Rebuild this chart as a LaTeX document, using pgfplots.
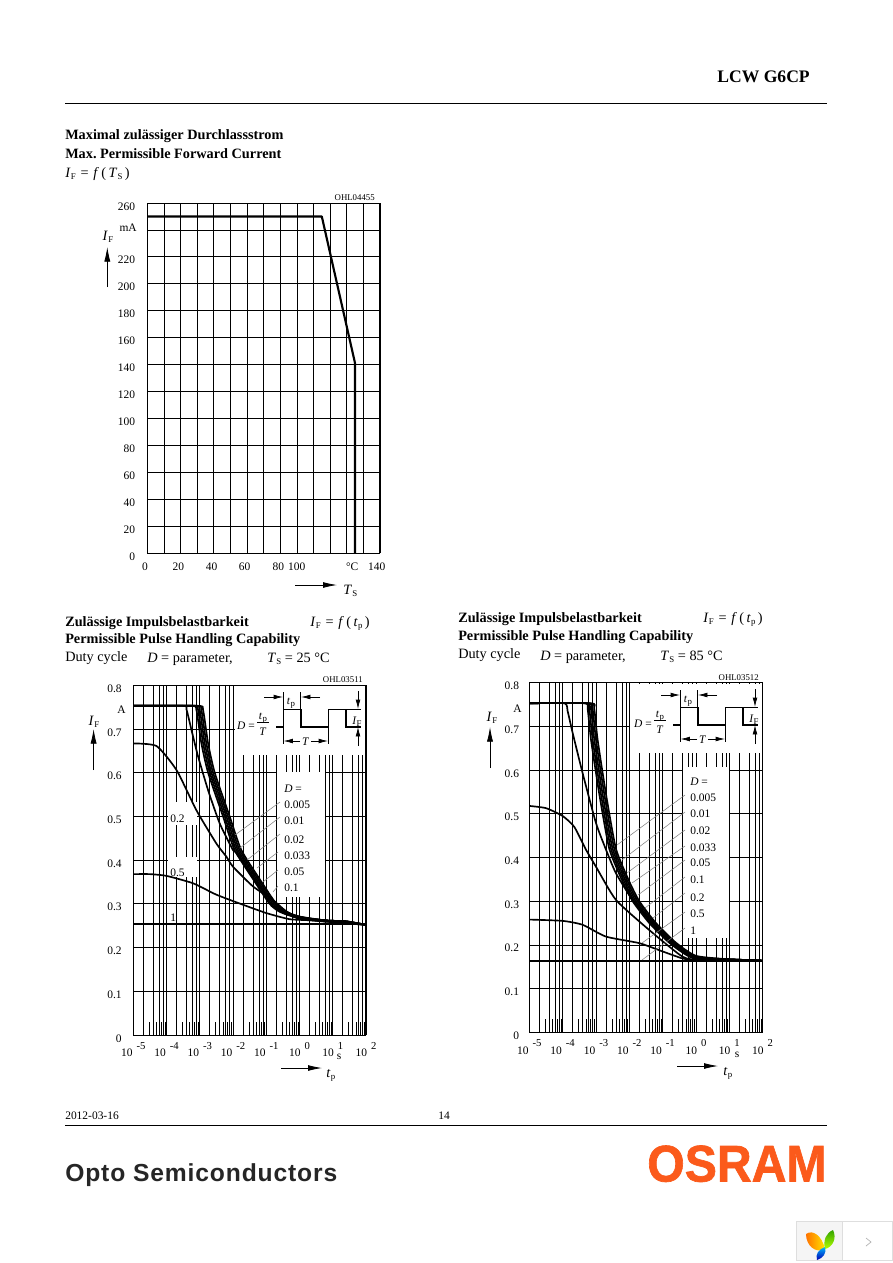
\documentclass[border=0pt]{standalone}
\usepackage{fontspec}
\usepackage{graphicx}
\usepackage{pgfplots}
\pgfplotsset{compat=1.18}
\usetikzlibrary{arrows.meta}
\setmainfont{Liberation Serif}
\newfontfamily\optof{Liberation Sans}[LetterSpace=3.5]
\newfontfamily\logof{Liberation Sans}[BoldFeatures={FakeBold=1.3}]
\definecolor{osram}{HTML}{FB5A1B}

\newcommand{\ft}{\fontsize{8.6pt}{10pt}\selectfont}
\newcommand{\fb}{\fontsize{10.7pt}{12pt}\selectfont}
\newcommand{\fs}{\fontsize{6.6pt}{8pt}\selectfont}
% subscript, math-like names in plain text
\newcommand{\sbb}[1]{\raisebox{-1.6pt}{\fontsize{6.6pt}{8pt}\selectfont #1}}
\newcommand{\IF}{\textit{I}\kern0.3pt\sbb{F}}
\newcommand{\TS}{\textit{T}\kern0.3pt\sbb{S}}
\newcommand{\tp}{\textit{t}\kern0.3pt\sbb{p}}
% text at page pixel x, baseline pixel y
\newcommand{\txt}[3]{\node[anchor=base west,inner sep=0pt,font=\ft] at (#1,#2) {#3};}
\newcommand{\tb}[3]{\node[anchor=base west,inner sep=0pt,font=\fb] at (#1,#2) {#3};}
\newcommand{\txtr}[3]{\node[anchor=base east,inner sep=0pt,font=\ft] at (#1,#2) {#3};}
% moved tick label, first argument is twice the shift in pt
\newcommand{\ls}[2]{\makebox[0pt]{\kern#1pt #2}}
\newcommand{\ex}[1]{10\kern3pt\raisebox{5.4pt}{\fontsize{8pt}{9pt}\selectfont #1}}

\tikzset{
  pg/.style={x=0.75pt,y=-0.75pt},
  uparr/.style={-{Latex[length=11pt,width=4.6pt]},line width=0.6pt},
  rtarr/.style={-{Latex[length=10.5pt,width=4.4pt]},line width=0.6pt},
  dimarr/.style={-{Latex[length=7pt,width=3.5pt]},line width=0.5pt},
}
\pgfplotsset{
  sheetaxis/.style={
    scale only axis,
    axis line style={line width=0.75pt},
    major tick length=0pt, minor tick length=0pt,
    grid style={black,line width=0.55pt},
    minor grid style={black,line width=0.55pt},
    ymajorgrids,
    tick label style={font=\ft,inner sep=0pt},
    xticklabel style={anchor=base},
  },
  pulsechart/.style={
    sheetaxis, xmin=1e-5, xmax=1e2, ymin=0, ymax=0.8,
    xmajorgrids, xminorgrids,
    xtick={1e-5,1e-4,1e-3,1e-2,1e-1,1,10,100},
    xticklabels={\ex{-5},\ex{-4},\ex{-3},\ex{-2},\ex{-1},\ex{0},\ex{1},\ex{2}},
    minor xtick={2e-5,4e-5,6e-5,8e-5,2e-4,4e-4,6e-4,8e-4,2e-3,4e-3,6e-3,8e-3,
      2e-2,4e-2,6e-2,8e-2,0.2,0.4,0.6,0.8,2,4,6,8,20,40,60,80},
    ytick={0,0.1,0.2,0.3,0.4,0.5,0.6,0.7,0.8},
    yticklabels={0,0.1,0.2,0.3,0.4,0.5,0.6,0.7,0.8},
    xticklabel style={yshift=-16.3pt},
  },
  dcurve/.style={black,line width=1.25pt,smooth,tension=0.35,line join=round},
}

% short marks at the odd multiples, bottom of both pulse charts
\newcommand{\oddmarks}{
\addplot[ycomb,black,line width=0.55pt] coordinates {
  (3e-5,0.03)(5e-5,0.03)(7e-5,0.03)(9e-5,0.03)
  (3e-4,0.03)(5e-4,0.03)(7e-4,0.03)(9e-4,0.03)
  (3e-3,0.03)(5e-3,0.03)(7e-3,0.03)(9e-3,0.03)
  (3e-2,0.03)(5e-2,0.03)(7e-2,0.03)(9e-2,0.03)
  (0.3,0.03)(0.5,0.03)(0.7,0.03)(0.9,0.03)
  (3,0.03)(5,0.03)(7,0.03)(9,0.03)
  (30,0.03)(50,0.03)(70,0.03)(90,0.03)
};}

% the pulse sketch, drawn for the left chart and shifted for the right one
\newcommand{\pulsesketch}{
  \draw[black,line width=1.2pt] (276,726.7)--(283.3,726.7)--(283.3,709.3)--(300.7,709.3)--(300.7,726.7)
    --(328.3,726.7)--(328.3,709.3)--(346,709.3)--(346,726.7)--(361,726.7);
  \draw[black,line width=0.5pt] (283.3,709)--(283.3,692) (300.7,709)--(300.7,692)
    (283.3,727)--(283.3,744) (328.3,727)--(328.3,744) (346,709.3)--(361,709.3);
  \draw[dimarr] (264,697)--(283,697);
  \draw[dimarr] (320,697)--(301,697);
  \draw[dimarr] (300,741)--(283.5,741);
  \draw[dimarr] (311,741)--(328,741);
  \draw[dimarr] (358,691)--(358,709);
  \draw[dimarr] (358,746)--(358,727);
  \draw[line width=0.5pt] (257,722.5)--(269,722.5);
  \node[anchor=base,inner sep=0pt,font=\ft] at (291,704) {\tp};
  \node[anchor=base,inner sep=0pt,font=\ft] at (305.7,745.5) {\textit{T}};
  \node[anchor=base,inner sep=0pt,font=\ft] at (357,724) {\textit{I}\sbb{F}};
  \node[anchor=base east,inner sep=0pt,font=\ft] at (255,729) {\textit{D} =};
  \node[anchor=base,inner sep=0pt,font=\ft] at (263,719) {\tp};
  \node[anchor=base,inner sep=0pt,font=\ft] at (263,735) {\textit{T}};
}

\begin{document}
\frenchspacing
\begin{tikzpicture}
\begin{scope}[pg]
\fill[white] (0,0) rectangle (892,1263);

% page head
\node[anchor=base east,inner sep=0pt,font=\fontsize{13.2pt}{15pt}\selectfont\bfseries] at (810,83) {LCW G6CP};
\draw[black,line width=0.75pt] (65,103.5)--(827,103.5);

% ---- top chart
\tb{65}{139}{\textbf{Maximal zulässiger Durchlassstrom}}
\tb{65}{158}{\textbf{Max. Permissible Forward Current}}
\tb{65}{177}{\IF{}\,\,=\,\,\textit{f}\,(\,\TS\,)}
\node[anchor=base east,inner sep=0pt,font=\fs] at (375,200) {OHL04455};
\end{scope}

\begin{axis}[sheetaxis, at={(110.475pt,-414.75pt)}, anchor=south west,
    width=174.5pt, height=262.5pt,
    xmin=0, xmax=140, ymin=0, ymax=260,
    xminorgrids,
    xtick={0,20,40,60,80,100,120,140},
    xticklabels={\ls{-3.45}{0},\ls{-3.3}{20},\ls{-3.3}{40},\ls{-3.6}{60},\ls{-3}{80},\ls{-25.2}{100},\ls{8.25}{°C},\ls{-5}{140}},
    minor xtick={0,10,...,140},
    ytick={0,20,40,60,80,100,120,140,160,180,200,220,240,260},
    yticklabels={0,20,40,60,80,100,120,140,160,180,200,220,,260},
    xticklabel style={yshift=-13.2pt},
    yticklabel style={anchor=base east,xshift=-9pt,yshift=-5.25pt},
]
\addplot[black,line width=1.6pt,line join=round] coordinates {(0,250)(105,250)(125,141)(125,0)};
\end{axis}

\begin{scope}[pg]
\txtr{137}{231}{mA}
\node[inner sep=0pt,font=\fb] at (108,237) {\IF};
\draw[uparr] (107.3,287)--(107.3,247);
\draw[rtarr] (295,585)--(337,585);
\tb{343}{594}{\TS}

% ---- lower left chart
\tb{65}{626}{\textbf{Zulässige Impulsbelastbarkeit}}
\tb{65}{643}{\textbf{Permissible Pulse Handling Capability}}
\tb{65}{661}{Duty cycle}
\tb{310}{626}{\IF{}\,\,=\,\,\textit{f}\,(\,\tp\,)}
\tb{147}{662}{\textit{D} = parameter,}
\tb{267}{662}{\TS{} = 25 °C}
\node[anchor=base east,inner sep=0pt,font=\fs] at (363,682) {OHL03511};
\end{scope}

\begin{semilogxaxis}[pulsechart, at={(99.975pt,-776.25pt)}, anchor=south west,
    width=174.5pt, height=262.3pt,
    yticklabel style={anchor=base east,xshift=-8.5pt,yshift=-5.25pt},
]
\oddmarks
% white patches that hold the sketch and the labels
\fill[white] (rel axis cs:0.437,0.8) rectangle (rel axis cs:0.9975,0.9975);
\fill[white] (rel axis cs:0.6175,0.395) rectangle (rel axis cs:0.825,0.752);
\fill[white] (rel axis cs:0.149,0.6) rectangle (rel axis cs:0.274,0.666);
\fill[white] (rel axis cs:0.149,0.452) rectangle (rel axis cs:0.274,0.509);
% D = 1
\addplot[black,line width=1.5pt] coordinates {(1e-5,0.253)(100,0.253)};
% D = 0.5
\addplot[dcurve] coordinates {(1e-5,0.368)(3.16e-5,0.368)(1e-4,0.364)(6.31e-4,0.347)(3.16e-3,0.321)
  (2e-2,0.298)(0.1,0.279)(0.501,0.265)(2.51,0.262)(100,0.252)};
% D = 0.2
\addplot[dcurve] coordinates {(1e-5,0.667)(5.01e-5,0.661)(2e-4,0.606)(7.94e-4,0.514)(3.16e-3,0.438)
  (6.31e-3,0.408)(1e-2,0.385)(3.98e-2,0.34)(0.158,0.309)(0.631,0.271)(2.51,0.262)(100,0.252)};
% D = 0.1
\addplot[dcurve] coordinates {(1e-5,0.753)(3.16e-4,0.753)(3.98e-4,0.745)(5.62e-4,0.698)(8.91e-4,0.637)(1.78e-3,0.56)
  (3.98e-3,0.484)(1e-2,0.423)(1.26e-2,0.416)(6.31e-2,0.34)(0.251,0.294)(0.631,0.275)(2.51,0.265)(100,0.252)};
% D = 0.05
\addplot[dcurve] coordinates {(1e-5,0.753)(5.62e-4,0.753)(7.94e-4,0.743)(1.12e-3,0.667)(1.78e-3,0.6)(5.01e-3,0.5)
  (1.12e-2,0.423)(4.47e-2,0.351)(0.126,0.3)(0.251,0.282)(0.794,0.269)(6.31,0.262)(25.1,0.26)(100,0.252)};
% D = 0.033
\addplot[dcurve] coordinates {(1e-5,0.753)(6.31e-4,0.753)(8.91e-4,0.743)(1.26e-3,0.667)(2e-3,0.6)(5.62e-3,0.5)
  (1.26e-2,0.423)(5.01e-2,0.351)(0.141,0.3)(0.282,0.282)(0.891,0.269)(6.31,0.262)(25.1,0.26)(100,0.252)};
% D = 0.02
\addplot[dcurve] coordinates {(1e-5,0.753)(7.08e-4,0.753)(1e-3,0.743)(1.41e-3,0.667)(2.24e-3,0.6)(6.31e-3,0.5)
  (1.41e-2,0.423)(5.62e-2,0.351)(0.158,0.3)(0.316,0.282)(0.891,0.27)(6.31,0.262)(25.1,0.26)(100,0.252)};
% D = 0.01
\addplot[dcurve] coordinates {(1e-5,0.753)(7.94e-4,0.753)(1.12e-3,0.743)(1.58e-3,0.667)(2.51e-3,0.6)(7.08e-3,0.5)
  (1.58e-2,0.423)(6.31e-2,0.351)(0.178,0.3)(0.355,0.282)(1,0.27)(6.31,0.262)(25.1,0.26)(100,0.252)};
% D = 0.005
\addplot[dcurve] coordinates {(1e-5,0.753)(8.91e-4,0.753)(1.26e-3,0.743)(1.78e-3,0.667)(2.82e-3,0.6)(7.94e-3,0.5)
  (1.78e-2,0.423)(7.08e-2,0.351)(0.2,0.3)(0.398,0.282)(1,0.271)(6.31,0.262)(25.1,0.26)(100,0.252)};
\end{semilogxaxis}

\begin{scope}[pg]
\pulsesketch
\draw[gray,line width=0.4pt] (280,802)--(235,835) (280,817)--(240,848) (280,834)--(247,860)
  (278,852)--(257,868) (278,870)--(263,882) (278,886)--(273,892);
\txtr{126}{713}{A}
\node[inner sep=0pt,font=\fb] at (94,722) {\IF};
\draw[uparr] (93.6,770)--(93.6,729);
\draw[rtarr] (281,1068)--(322,1068);
\tb{326}{1077}{\tp}
\node[anchor=base,inner sep=0pt,font=\ft] at (339,1059) {s};
\txt{284}{792}{\textit{D} =}
\txt{284}{808}{0.005}
\txt{284}{824}{0.01}
\txt{284}{843}{0.02}
\txt{284}{859}{0.033}
\txt{284}{875}{0.05}
\txt{284}{891}{0.1}
\txt{170}{822}{0.2}
\txt{170}{876}{0.5}
\txt{170}{921}{1}

% ---- lower right chart
\tb{458}{622}{\textbf{Zulässige Impulsbelastbarkeit}}
\tb{458}{640}{\textbf{Permissible Pulse Handling Capability}}
\tb{458}{658}{Duty cycle}
\tb{703}{622}{\IF{}\,\,=\,\,\textit{f}\,(\,\tp\,)}
\tb{540}{660}{\textit{D} = parameter,}
\tb{660}{660}{\TS{} = 85 °C}
\node[anchor=base east,inner sep=0pt,font=\fs] at (759,680) {OHL03512};
\end{scope}

\begin{semilogxaxis}[pulsechart, at={(396.975pt,-774.225pt)}, anchor=south west,
    width=175pt, height=262.2pt,
    yticklabel style={anchor=base east,xshift=-7.5pt,yshift=-5.25pt},
]
\oddmarks
\fill[white] (rel axis cs:0.431,0.8) rectangle (rel axis cs:0.9975,0.9975);
\fill[white] (rel axis cs:0.6585,0.27) rectangle (rel axis cs:0.8556,0.759);
% D = 1
\addplot[black,line width=1.8pt] coordinates {(1e-5,0.163)(100,0.163)};
% D = 0.5
\addplot[dcurve] coordinates {(1e-5,0.258)(1e-4,0.255)(3.98e-4,0.246)(2e-3,0.219)(2e-2,0.204)(0.1,0.185)
  (0.398,0.169)(1,0.165)(100,0.164)};
% D = 0.2
\addplot[dcurve] coordinates {(1e-5,0.518)(3.16e-5,0.513)(1e-4,0.495)(2.24e-4,0.47)(5.01e-4,0.418)(1e-3,0.379)
  (3.98e-3,0.303)(3.98e-2,0.234)(0.398,0.173)(1.58,0.165)(100,0.164)};
% D = 0.1
\addplot[dcurve] coordinates {(1e-5,0.753)(1.12e-4,0.753)(1.41e-4,0.735)(2e-4,0.685)(3.98e-4,0.593)(1e-3,0.479)
  (2e-3,0.418)(3.98e-3,0.364)(1.26e-2,0.303)(6.31e-2,0.242)(0.398,0.189)(1.58,0.168)(10,0.165)(100,0.164)};
% D = 0.05
\addplot[dcurve] coordinates {(1e-5,0.753)(4.47e-4,0.753)(5.62e-4,0.74)(7.08e-4,0.67)(1.26e-3,0.545)(2.51e-3,0.42)
  (6.31e-3,0.345)(1.26e-2,0.3)(3.98e-2,0.25)(0.158,0.205)(0.794,0.17)(10,0.167)(100,0.164)};
% D = 0.033
\addplot[dcurve] coordinates {(1e-5,0.753)(5.01e-4,0.753)(6.31e-4,0.74)(7.94e-4,0.67)(1.41e-3,0.545)(2.82e-3,0.42)
  (7.08e-3,0.345)(1.41e-2,0.3)(4.47e-2,0.25)(0.178,0.205)(0.891,0.171)(10,0.167)(100,0.164)};
% D = 0.02
\addplot[dcurve] coordinates {(1e-5,0.753)(5.62e-4,0.753)(7.08e-4,0.74)(8.91e-4,0.67)(1.58e-3,0.545)(3.16e-3,0.42)
  (7.94e-3,0.345)(1.58e-2,0.3)(5.01e-2,0.25)(0.2,0.205)(0.891,0.172)(10,0.167)(100,0.164)};
% D = 0.01
\addplot[dcurve] coordinates {(1e-5,0.753)(6.31e-4,0.753)(7.94e-4,0.74)(1e-3,0.67)(1.78e-3,0.545)(3.55e-3,0.42)
  (8.91e-3,0.345)(1.78e-2,0.3)(5.62e-2,0.25)(0.224,0.205)(1,0.173)(10,0.167)(100,0.164)};
% D = 0.005
\addplot[dcurve] coordinates {(1e-5,0.753)(7.08e-4,0.753)(8.91e-4,0.74)(1.12e-3,0.67)(2e-3,0.545)(3.98e-3,0.42)
  (1e-2,0.345)(2e-2,0.3)(6.31e-2,0.25)(0.251,0.205)(1,0.175)(10,0.167)(100,0.164)};
\end{semilogxaxis}

\begin{scope}[pg]
\begin{scope}[shift={(397,-2)}]
\pulsesketch
\end{scope}
\draw[gray,line width=0.4pt] (685,795)--(617,845) (685,812)--(622,860) (685,830)--(627,873)
  (685,846)--(632,883) (685,860)--(638,895) (685,877)--(645,908) (685,893)--(653,918)
  (685,912)--(642,943) (685,928)--(642,960);
\txtr{522}{712}{A}
\node[inner sep=0pt,font=\fb] at (492,718) {\IF};
\draw[uparr] (490,768)--(490,727);
\draw[rtarr] (677,1066)--(718,1066);
\tb{723}{1075}{\tp}
\node[anchor=base,inner sep=0pt,font=\ft] at (737,1057) {s};
\txt{690}{785}{\textit{D} =}
\txt{690}{801}{0.005}
\txt{690}{817}{0.01}
\txt{690}{834}{0.02}
\txt{690}{851}{0.033}
\txt{690}{866}{0.05}
\txt{690}{883}{0.1}
\txt{690}{901}{0.2}
\txt{690}{917}{0.5}
\txt{690}{934}{1}

% page foot
\txt{65}{1119}{2012-03-16}
\node[anchor=base,inner sep=0pt,font=\ft] at (444,1119) {14};
\draw[black,line width=0.75pt] (65,1125.5)--(827,1125.5);
\node[anchor=base west,inner sep=0pt,text=black!85] at (65,1181)
  {\resizebox{204pt}{!}{\optof\bfseries Opto Semiconductors}};
\node[anchor=base west,inner sep=0pt,text=osram] at (647,1181.5)
  {\resizebox{134.5pt}{27pt}{\logof\bfseries OSRAM}};

% little corner widget
\fill[black!4] (796,1221) rectangle (842,1260);
\draw[black!13,line width=0.7pt] (796,1221) rectangle (892,1260) (842,1221)--(842,1260);
\shade[left color=orange!90!red,right color=yellow!80!orange]
  (806,1234) .. controls (813,1229) and (822,1236) .. (825,1249) .. controls (815,1254) and (806,1245) .. cycle;
\shade[bottom color=yellow!70!green,top color=green!55!black!80!yellow]
  (833,1230) .. controls (837,1238) and (833,1247) .. (825,1249) .. controls (823,1240) and (826,1233) .. cycle;
\shade[top color=cyan!70!blue,bottom color=blue!70!black]
  (825,1247) .. controls (827,1253) and (823,1258) .. (817,1260) .. controls (815,1254) and (819,1249) .. cycle;
\draw[black!30,line width=0.5pt] (866,1238)--(871,1242)--(866,1246);
\end{scope}
\end{tikzpicture}
\end{document}
